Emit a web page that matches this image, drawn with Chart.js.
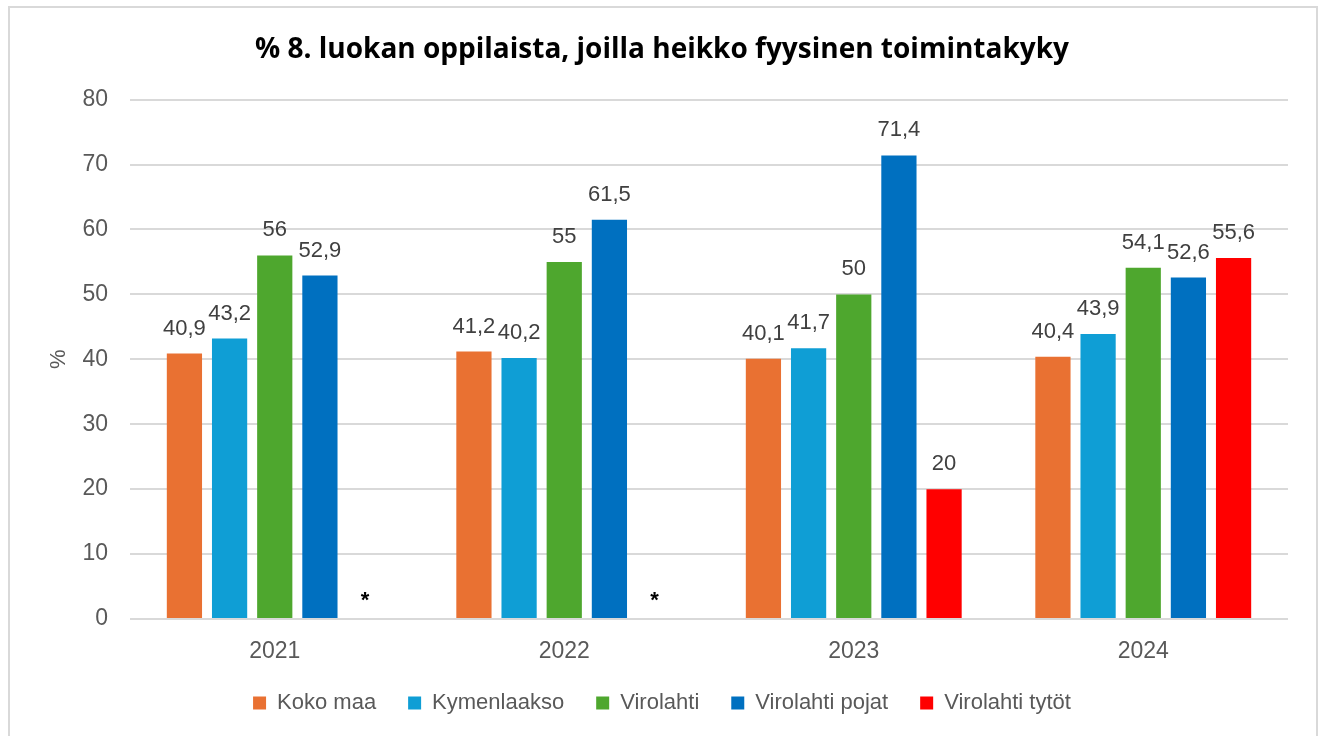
<!DOCTYPE html>
<html>
<head>
<meta charset="utf-8">
<script src="https://cdn.jsdelivr.net/npm/chart.js@4.4.1/dist/chart.umd.min.js"></script>
<style>
  html, body { margin: 0; padding: 0; background: #fff; overflow: hidden; }
  #frame {
    position: absolute; left: 8px; top: 6px;
    width: 1306px; height: 740px;
    border: 2px solid #d9d9d9;
  }
  #chart { display: block; }
</style>
</head>
<body>
<div id="frame"><canvas id="chart" width="1306" height="728"></canvas></div>
<script>
const years = ['2021', '2022', '2023', '2024'];
const kokoMaa = [40.9, 41.2, 40.1, 40.4];
const kymenlaakso = [43.2, 40.2, 41.7, 43.9];
const virolahti = [56, 55, 50, 54.1];
const virolahtiPojat = [52.9, 61.5, 71.4, 52.6];
const virolahtiTytot = [null, null, 20, 55.6];   // * = ei tietoa
const missingMark = '*';
const yTicks = [0, 10, 20, 30, 40, 50, 60, 70, 80];

const FONT = "'Liberation Sans', Arial, sans-serif";
const fmt = v => String(v).replace('.', ',');

// draw value labels above bars (and * for missing values)
const valueLabels = {
  id: 'valueLabels',
  afterDatasetsDraw(chart) {
    const ctx = chart.ctx;
    const yScale = chart.scales.y;
    ctx.save();
    ctx.textAlign = 'center';
    ctx.textBaseline = 'middle';
    chart.data.datasets.forEach((ds, i) => {
      const meta = chart.getDatasetMeta(i);
      meta.data.forEach((bar, j) => {
        const v = ds.data[j];
        if (v === null || v === undefined) {
          ctx.fillStyle = '#000';
          ctx.font = 'bold 22px ' + FONT;
          ctx.fillText(missingMark, bar.x, yScale.getPixelForValue(0) - 18);
          return;
        }
        ctx.fillStyle = '#404040';
        ctx.font = '22px ' + FONT;
        ctx.fillText(fmt(v), bar.x, bar.y - 25);
      });
    });
    ctx.restore();
  }
};

// fixed legend height so the plot keeps its place
const legendHeight = {
  id: 'legendHeight',
  beforeLayout(chart) {
    const lg = chart.legend;
    if (lg && !lg._fixed) {
      const fit = lg.fit.bind(lg);
      lg.fit = function () { fit(); this.height = 76; };
      lg._fixed = true;
    }
  }
};

new Chart(document.getElementById('chart'), {
  type: 'bar',
  data: {
    labels: years,
    datasets: [
      { label: 'Koko maa', data: kokoMaa, backgroundColor: '#E97132' },
      { label: 'Kymenlaakso', data: kymenlaakso, backgroundColor: '#0F9ED5' },
      { label: 'Virolahti', data: virolahti, backgroundColor: '#4EA72E' },
      { label: 'Virolahti pojat', data: virolahtiPojat, backgroundColor: '#0070C0' },
      { label: 'Virolahti tytöt', data: virolahtiTytot, backgroundColor: '#FF0000' }
    ]
  },
  options: {
    responsive: false,
    animation: false,
    categoryPercentage: 0.78,
    barPercentage: 0.78,
    layout: { padding: { left: 26, right: 28, bottom: 0 } },
    scales: {
      x: {
        afterFit: axis => { axis.height = 41; },
        grid: { display: false, drawTicks: false },
        border: { display: false },
        ticks: { color: '#595959', font: { family: FONT, size: 23 }, padding: 19 }
      },
      y: {
        min: 0, max: 80,
        afterBuildTicks: axis => { axis.ticks = yTicks.map(v => ({ value: v })); },
        afterFit: axis => { axis.width = 94; },
        grid: { color: '#d9d9d9', lineWidth: 2, drawTicks: false },
        border: { display: false },
        ticks: { color: '#595959', font: { family: FONT, size: 23 }, padding: 22 },
        title: { display: true, text: '%', color: '#595959', font: { family: FONT, size: 22 }, padding: { top: 10, bottom: 0 } }
      }
    },
    plugins: {
      title: {
        display: true,
        text: '% 8. luokan oppilaista, joilla heikko fyysinen toimintakyky',
        color: '#000',
        font: { family: "'Open Sans', " + FONT, size: 28, weight: 'bold' },
        padding: { top: 25, bottom: 33 }
      },
      legend: {
        position: 'bottom',
        labels: {
          color: '#595959',
          font: { family: FONT, size: 22 },
          boxWidth: 13, boxHeight: 13,
          padding: 32
        }
      },
      tooltip: { enabled: false }
    }
  },
  plugins: [valueLabels, legendHeight]
});
</script>
</body>
</html>
